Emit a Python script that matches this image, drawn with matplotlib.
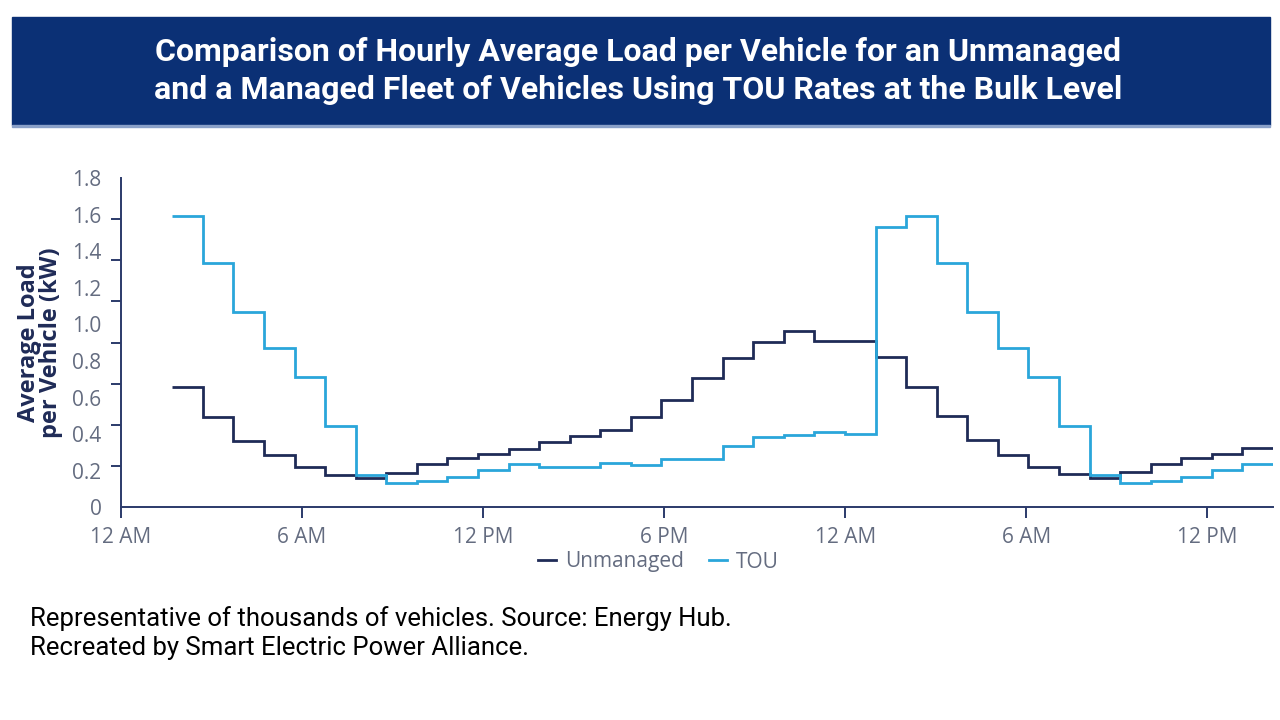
"""
Hourly average load per vehicle: unmanaged fleet vs TOU-managed fleet
"""
import matplotlib
matplotlib.use('Agg')
import matplotlib.pyplot as plt
import numpy as np
from matplotlib.patches import Rectangle

# values, one per hourly step (kW per vehicle)
unmanaged = [0.657, 0.496, 0.365, 0.286, 0.222, 0.177, 0.159, 0.190, 0.237,
             0.272, 0.294, 0.319, 0.356, 0.390, 0.422, 0.491, 0.584, 0.706,
             0.816, 0.901, 0.962, 0.907, 0.907, 0.819, 0.657, 0.500, 0.369,
             0.286, 0.219, 0.181, 0.162, 0.192, 0.237, 0.268, 0.292, 0.326]
tou = [1.595, 1.336, 1.068, 0.871, 0.710, 0.447, 0.177, 0.135, 0.146,
       0.164, 0.204, 0.235, 0.219, 0.219, 0.244, 0.232, 0.265, 0.265,
       0.334, 0.383, 0.396, 0.414, 0.401, 1.531, 1.595, 1.336, 1.068,
       0.871, 0.710, 0.447, 0.177, 0.135, 0.146, 0.164, 0.204, 0.235]

tick_hours = [0, 6, 12, 18, 24, 30, 36]
tick_labels = ['12 AM', '6 AM', '12 PM', '6 PM', '12 AM', '6 AM', '12 PM']
y_ticks = [0, 0.2, 0.4, 0.6, 0.8, 1.0, 1.2, 1.4, 1.6, 1.8]
y_tick_labels = ['0', '0.2', '0.4', '0.6', '0.8', '1.0', '1.2', '1.4', '1.6', '1.8']

title = ('Comparison of Hourly Average Load per Vehicle for an Unmanaged\n'
         'and a Managed Fleet of Vehicles Using TOU Rates at the Bulk Level')
note = ('Representative of thousands of vehicles. Source: Energy Hub.\n'
        'Recreated by Smart Electric Power Alliance.')

NAVY = '#1f2b57'
LIGHT = '#2aa6da'
AXIS = '#2b3a6a'
GREY = '#646c80'

start_hour = 1.7
x_end = 38.18
step = (x_end - start_hour) / len(unmanaged)
edges = start_hour + np.arange(len(unmanaged) + 1) * step

plt.rcParams['font.family'] = ['Open Sans', 'DejaVu Sans']

fig = plt.figure(figsize=(12.8, 7.2), dpi=100)
W, H = 1280, 720

# title banner
fig.patches.append(Rectangle((12 / W, 1 - 125 / H), 1258 / W, 108 / H,
                             transform=fig.transFigure, color='#0b3075', zorder=0))
fig.patches.append(Rectangle((12 / W, 1 - 127 / H), 1258 / W, 2 / H,
                             transform=fig.transFigure, color='#8aa0c8', zorder=0))
fig.text(638 / W, 1 - 71 / H, title, ha='center', va='center', color='white',
         fontsize=23, fontweight='bold', family='Roboto', linespacing=1.3)

ax = fig.add_axes([121 / W, 1 - 507.3 / H, (1273 - 121) / W, (507.3 - 178) / H])
ax.stairs(unmanaged, edges, baseline=None, color=NAVY, linewidth=2, label='Unmanaged')
ax.stairs(tou, edges, baseline=None, color=LIGHT, linewidth=2, label='TOU')

ax.set_xlim(0, x_end)
ax.set_ylim(0, 1.8)
ax.set_xticks(tick_hours)
ax.set_xticklabels(tick_labels)
ax.set_yticks(y_ticks)
ax.set_yticklabels(y_tick_labels)
ax.set_yticks(np.linspace(0, 1.8, 9), minor=True)

for side in ['top', 'right']:
    ax.spines[side].set_visible(False)
for side in ['left', 'bottom']:
    ax.spines[side].set_color(AXIS)
    ax.spines[side].set_linewidth(1.4)

ax.tick_params(axis='x', colors=AXIS, labelcolor=GREY, labelsize=15,
               length=8, width=1.4, pad=6)
ax.tick_params(axis='y', which='major', length=0, labelcolor=GREY,
               labelsize=15, pad=14)
ax.tick_params(axis='y', which='minor', colors=AXIS, length=7, width=1.4)

fig.text(40 / W, 1 - 343 / H, 'Average Load\nper Vehicle (kW)', rotation=90,
         ha='center', va='center', color=NAVY, fontsize=17, fontweight='bold',
         linespacing=0.85)

fig.legend(loc='center', bbox_to_anchor=(658 / W, 1 - 562 / H), ncol=2,
           frameon=False, fontsize=15, labelcolor=GREY, handlelength=0.9,
           handletextpad=0.4, columnspacing=1.2)

fig.text(30 / W, 1 - 633 / H, note, ha='left', va='center', color='black',
         fontsize=18.5, family='Roboto', linespacing=1.25)

fig.savefig('out.png', dpi=100)
